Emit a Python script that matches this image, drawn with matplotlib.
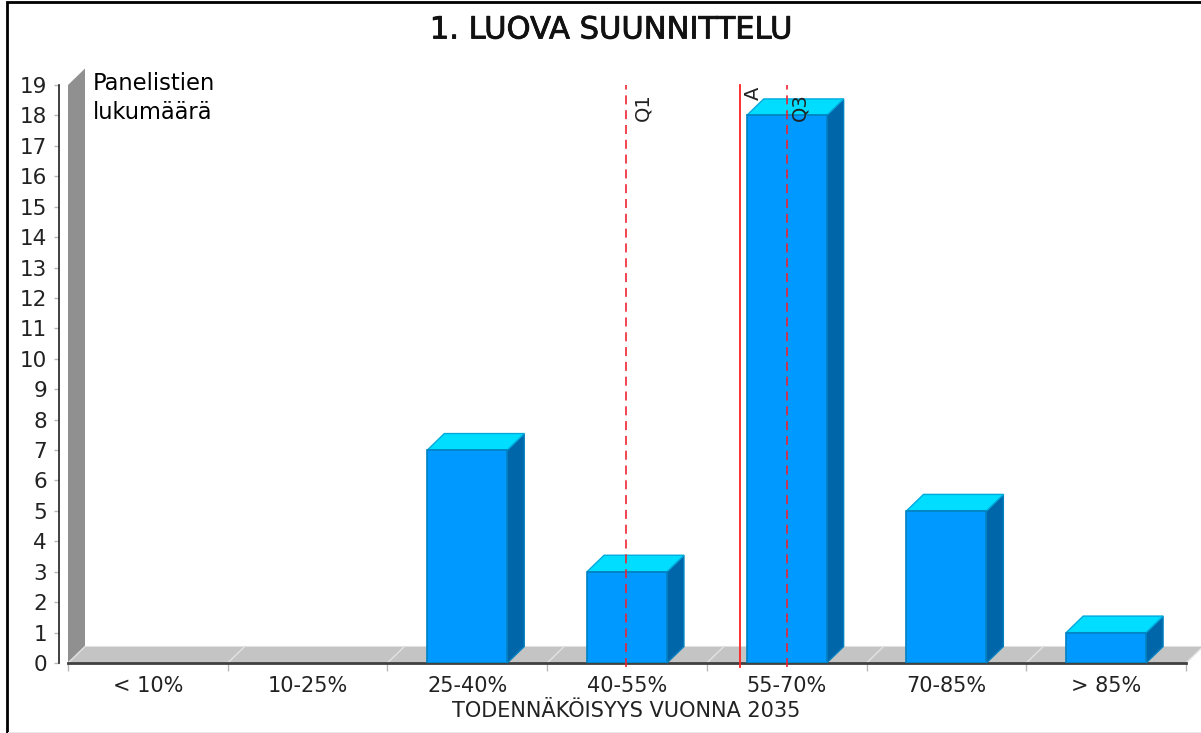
import numpy as np
import matplotlib.pyplot as plt
import matplotlib.patheffects as pe
from matplotlib.patches import Polygon, Rectangle

title = '1. LUOVA SUUNNITTELU'
xlabel = 'TODENNÄKÖISYYS VUONNA 2035'
ylabel = 'Panelistien\nlukumäärä'
categories = ['< 10%', '10-25%', '25-40%', '40-55%', '55-70%', '70-85%', '> 85%']
counts = [0, 0, 7, 3, 18, 5, 1]
yticks = list(range(0, 20))
# marker positions on the category scale
q1_pos = 3.494
a_pos = 4.208
q3_pos = 4.502

W, H = 1201, 733
fig = plt.figure(figsize=(W / 100, H / 100), dpi=100, facecolor='white')
plt.rcParams['font.family'] = ['DejaVu Sans']

# border
fig.add_artist(Rectangle((6.5 / W, 0.5 / H), 1.1, 1 - 2 / H, transform=fig.transFigure,
                         fill=False, edgecolor='black', linewidth=2))
fig.add_artist(Rectangle((8 / W, 0), 1, 1.2 / H, transform=fig.transFigure,
                         facecolor='#E8E8E8', edgecolor='none'))

ax = fig.add_axes([68 / W, 1 - 663 / H, (1186 - 68) / W, (663 - 85) / H])
ax.set_xlim(0, 7)
ax.set_ylim(0, 19)
ax.patch.set_alpha(0)
for s in ax.spines.values():
    s.set_visible(False)
# has to come before the tick setup, set_position resets the ticks
ax.spines['left'].set_visible(True)
ax.spines['left'].set_position(('outward', 6.5))
ax.spines['left'].set_color('#202020')
ax.spines['left'].set_linewidth(1.2)

# 3d depth in data units
dx = 17 / (1118 / 7)
dy = 16.5 / (578 / 19)

# wall and floor
ax.add_patch(Polygon([(0, 0), (dx, dy), (dx, 19 + dy), (0, 19)], closed=True,
                     facecolor='#909090', edgecolor='none', clip_on=False, zorder=1))
ax.add_patch(Polygon([(0, 0), (dx, dy), (7 + dx, dy), (7, 0)], closed=True,
                     facecolor='#C4C4C4', edgecolor='none', clip_on=False, zorder=1))
for i in range(0, 8):
    ax.plot([i, i + dx], [0, dy], color='#E2E2E2', lw=1, clip_on=False, zorder=1.5)

ax.plot([0, 7], [0, 0], color='#404040', lw=2, clip_on=False, zorder=2)

# bars, empty categories draw nothing
pos = np.arange(len(categories)) + 0.5
bw = 0.5
shown = [(x, v) for x, v in zip(pos, counts) if v > 0]
for x, v in shown:
    l, r = x - bw / 2, x + bw / 2
    ax.add_patch(Polygon([(r, 0), (r + dx, dy), (r + dx, v + dy), (r, v)], closed=True,
                         facecolor='#0066AA', edgecolor='#0080C0', lw=1, clip_on=False, zorder=3))
    ax.add_patch(Polygon([(l, v), (l + dx, v + dy), (r + dx, v + dy), (r, v)], closed=True,
                         facecolor='#00DDFF', edgecolor='#00AADD', lw=1, clip_on=False, zorder=3))
ax.bar([s[0] for s in shown], [s[1] for s in shown], width=bw, color='#0099FF',
       edgecolor='#0080C0', linewidth=1.2, zorder=4)

# quartile and average markers
line_bottom = -0.13
ax.plot([q1_pos, q1_pos], [line_bottom, 19], color='#F0202F', lw=1.3, ls=(0, (5, 3.2)), alpha=0.9,
        clip_on=False, zorder=5)
ax.plot([q3_pos, q3_pos], [line_bottom, 19], color='#F0202F', lw=1.3, ls=(0, (5, 3.2)), alpha=0.9,
        clip_on=False, zorder=5)
ax.plot([a_pos, a_pos], [line_bottom, 19], color='#FF2020', lw=1.3, clip_on=False, zorder=5)
ax.annotate('Q1', (q1_pos, 19), xytext=(7, -8), textcoords='offset pixels', rotation=90,
            ha='left', va='top', fontsize=14, color='#222222', zorder=6)
ax.annotate('Q3', (q3_pos, 19), xytext=(3, -8), textcoords='offset pixels', rotation=90,
            ha='left', va='top', fontsize=14, color='#222222', zorder=6)
ax.annotate('A', (a_pos, 19), xytext=(4, -2), textcoords='offset pixels', rotation=90,
            ha='left', va='top', fontsize=14, color='#222222', zorder=6)

# axes
ax.set_xticks(range(0, 8))
ax.set_xticklabels([])
ax.tick_params(axis='x', length=5.5, width=1, color='#B8B8B8')
ax.set_xticks(pos, minor=True)
ax.set_xticklabels(categories, minor=True, fontsize=15, color='#222222')
ax.tick_params(axis='x', which='minor', length=0, pad=9)

ax.set_yticks(yticks)
ax.set_yticklabels([str(t) for t in yticks], fontsize=15.5, color='#222222')
ax.tick_params(axis='y', length=3.5, width=1, color='#B8B8B8', pad=5)

fig.text(626 / W, 1 - 711 / H, xlabel, ha='center', va='center', fontsize=15, color='#222222')
fig.text(93 / W, 1 - 72 / H, ylabel, ha='left', va='top', fontsize=16.3, color='black', linespacing=1.35)
t = fig.text(610.5 / W, 1 - 30 / H, title, ha='center', va='center', fontsize=22, color='#111111')
t.set_path_effects([pe.withStroke(linewidth=0.6, foreground='#111111')])

fig.savefig('out.png', dpi=100)
